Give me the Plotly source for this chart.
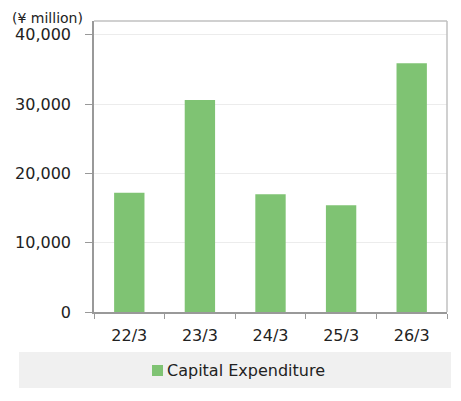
import plotly.graph_objects as go

# fiscal years and capital expenditure (¥ million)
years = ['22/3', '23/3', '24/3', '25/3', '26/3']
capex = [17200, 30600, 17000, 15400, 35900]
y_ticks = [0, 10000, 20000, 30000, 40000]
y_labels = ['0', '10,000', '20,000', '30,000', '40,000']
series_name = 'Capital Expenditure'

font_family = 'DejaVu Sans'
bar_color = '#7fc373'
text_color = '#222222'

# plot area in page pixels; the page body adds an 8px margin
PAGE_OFF = 8
L, R, T, B = 94, 447, 21, 312
PW, PH = R - L, B - T


def px_x(x):
    return (x - L) / PW


def px_y(y):
    return (B - y) / PH


fig = go.Figure()

fig.add_trace(go.Bar(
    x=years,
    y=capex,
    name=series_name,
    marker=dict(color=bar_color, line=dict(width=0)),
    showlegend=False,
))

# legend is drawn by hand so the square sits right next to the label
fig.update_layout(
    width=461,
    height=401,
    margin=dict(l=L - PAGE_OFF, r=461 - (L - PAGE_OFF) - PW,
                t=T - PAGE_OFF, b=401 - (T - PAGE_OFF) - PH, autoexpand=False),
    paper_bgcolor='white',
    plot_bgcolor='white',
    bargap=0.57,
    font=dict(family=font_family, color=text_color),
    shapes=[
        # grey legend band
        dict(type='rect', xref='paper', yref='paper',
             x0=px_x(19), x1=px_x(451), y0=px_y(388), y1=px_y(352),
             fillcolor='#f0f0f0', line=dict(width=0), layer='below'),
        # legend square
        dict(type='rect', xref='paper', yref='paper',
             x0=px_x(152), x1=px_x(163), y0=px_y(376), y1=px_y(365),
             fillcolor=bar_color, line=dict(width=0)),
        # top and right frame of the plot area
        dict(type='line', xref='paper', yref='paper',
             x0=0, x1=1, y0=1, y1=1, line=dict(color='#c0c0c0', width=1.5)),
        dict(type='line', xref='paper', yref='paper',
             x0=1, x1=1, y0=0, y1=1, line=dict(color='#c0c0c0', width=1.5)),
    ],
    annotations=[
        dict(text='(¥ million)', xref='paper', yref='paper',
             x=px_x(47.5), y=px_y(17.5), xanchor='center', yanchor='middle',
             showarrow=False, font=dict(size=14, color=text_color, family=font_family)),
        dict(text=series_name, xref='paper', yref='paper',
             x=px_x(165), y=px_y(370), xanchor='left', yanchor='middle',
             showarrow=False, font=dict(size=16, color=text_color, family=font_family)),
    ],
)

fig.update_xaxes(
    showline=True, linecolor='#999999', linewidth=1.5,
    ticks='outside', ticklen=5, tickcolor='#999999',
    tickson='boundaries',
    ticklabelstandoff=8,
    tickfont=dict(size=16, color=text_color, family=font_family),
    showgrid=False,
    automargin=False,
)

fig.update_yaxes(
    range=[0, 42000],
    tickvals=y_ticks,
    ticktext=y_labels,
    showline=True, linecolor='#999999', linewidth=1.5,
    ticks='outside', ticklen=7, tickcolor='#999999',
    ticklabelstandoff=11,
    tickfont=dict(size=16, color=text_color, family=font_family),
    showgrid=True, gridcolor='#ececec', gridwidth=1,
    zeroline=False,
    automargin=False,
)

fig.write_html("out.html")
